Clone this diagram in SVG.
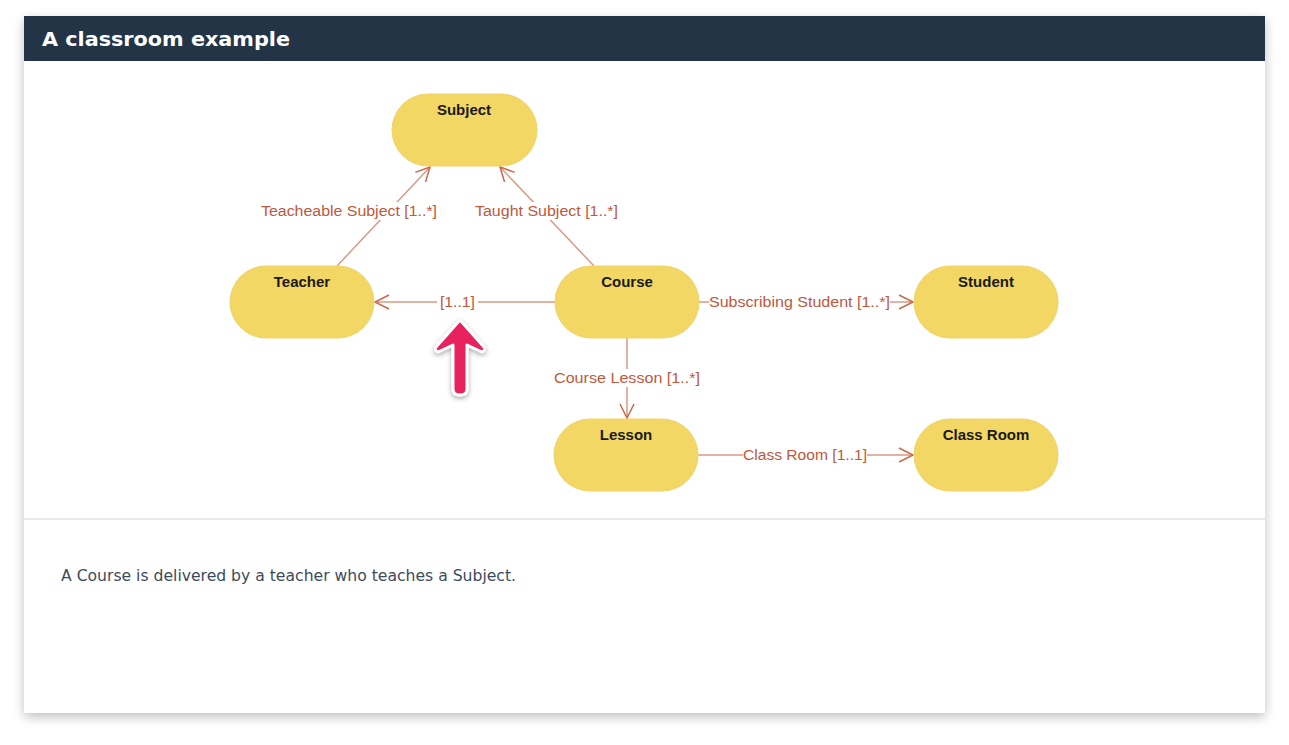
<svg xmlns="http://www.w3.org/2000/svg" width="1289" height="745" viewBox="0 0 1289 745">
<defs>
<filter id="shadow" x="-5%" y="-5%" width="110%" height="115%">
<feGaussianBlur in="SourceAlpha" stdDeviation="6"/>
<feOffset dx="0" dy="4"/>
<feComponentTransfer><feFuncA type="linear" slope="0.25"/></feComponentTransfer>
<feMerge><feMergeNode/><feMergeNode in="SourceGraphic"/></feMerge>
</filter>
<filter id="pshadow" x="-50%" y="-30%" width="200%" height="160%">
<feGaussianBlur in="SourceAlpha" stdDeviation="2.5"/>
<feOffset dx="0" dy="2"/>
<feComponentTransfer><feFuncA type="linear" slope="0.35"/></feComponentTransfer>
<feMerge><feMergeNode/><feMergeNode in="SourceGraphic"/></feMerge>
</filter>
<marker id="arr" markerWidth="20" markerHeight="20" refX="15" refY="8" orient="auto" markerUnits="userSpaceOnUse">
<path d="M1,1 L15,8 L1,15" fill="none" stroke="#c8694e" stroke-width="1.5"/>
</marker>
</defs>
<style>
.node rect{fill:#f2d764;stroke:#f0d36a;stroke-width:1}
.node text{font-family:"Liberation Sans",Arial,sans-serif;font-weight:bold;font-size:15px;fill:#1a1a1a;text-anchor:middle}
.edge{stroke:#d99a86;stroke-width:1.5;fill:none}
.lbl{font-family:"Liberation Sans",Arial,sans-serif;font-size:14px;fill:#c0583c;text-anchor:middle;dominant-baseline:central}
.lblbg{fill:#ffffff}
</style>
<rect width="1289" height="745" fill="#ffffff"/>
<g id="card">
<rect x="24" y="16" width="1241" height="697" fill="#ffffff" filter="url(#shadow)"/>
<rect x="24" y="16" width="1241" height="45" fill="#243447"/>
<text x="42" y="46" font-family="'DejaVu Sans',Verdana,sans-serif" font-weight="bold" font-size="20" fill="#ffffff" textLength="248" lengthAdjust="spacingAndGlyphs">A classroom example</text>
<line x1="24" y1="519" x2="1265" y2="519" stroke="#e2e2e2" stroke-width="1.5"/>
<text x="61" y="581" font-family="'DejaVu Sans',Verdana,sans-serif" font-size="15" fill="#3d4b5c" textLength="455" lengthAdjust="spacingAndGlyphs">A Course is delivered by a teacher who teaches a Subject.</text>
</g>
<g id="connectors">
<line class="edge" x1="337" y1="266" x2="430" y2="167" marker-end="url(#arr)"/>
<line class="edge" x1="594" y1="266" x2="500" y2="167" marker-end="url(#arr)"/>
<line class="edge" x1="555" y1="302" x2="375" y2="302" marker-end="url(#arr)"/>
<line class="edge" x1="699" y1="302" x2="913" y2="302" marker-end="url(#arr)"/>
<line class="edge" x1="627" y1="338" x2="627" y2="418" marker-end="url(#arr)"/>
<line class="edge" x1="698" y1="455" x2="913" y2="455" marker-end="url(#arr)"/>
<rect class="lblbg" x="261" y="202" width="176" height="18"/>
<text class="lbl" x="349" y="211" textLength="176" lengthAdjust="spacingAndGlyphs">Teacheable Subject [1..*]</text>
<rect class="lblbg" x="475" y="202" width="143" height="18"/>
<text class="lbl" x="546.5" y="211" textLength="143" lengthAdjust="spacingAndGlyphs">Taught Subject [1..*]</text>
<rect class="lblbg" x="437" y="293" width="41" height="18"/>
<text class="lbl" x="457.5" y="302" textLength="35" lengthAdjust="spacingAndGlyphs">[1..1]</text>
<rect class="lblbg" x="709" y="293" width="181" height="18"/>
<text class="lbl" x="799.5" y="302" textLength="181" lengthAdjust="spacingAndGlyphs">Subscribing Student [1..*]</text>
<rect class="lblbg" x="554" y="369" width="146" height="18"/>
<text class="lbl" x="627" y="378" textLength="146" lengthAdjust="spacingAndGlyphs">Course Lesson [1..*]</text>
<rect class="lblbg" x="743" y="446" width="124" height="18"/>
<text class="lbl" x="805" y="455" textLength="124" lengthAdjust="spacingAndGlyphs">Class Room [1..1]</text>
</g>
<g id="subject" class="node"><rect x="392" y="94" width="145" height="72" rx="36"/><text x="464" y="115">Subject</text></g>
<g id="teacher" class="node"><rect x="230" y="266" width="144" height="72" rx="36"/><text x="302" y="287">Teacher</text></g>
<g id="course" class="node"><rect x="555" y="266" width="144" height="72" rx="36"/><text x="627" y="287">Course</text></g>
<g id="student" class="node"><rect x="914" y="266" width="144" height="72" rx="36"/><text x="986" y="287">Student</text></g>
<g id="lesson" class="node"><rect x="554" y="419" width="144" height="72" rx="36"/><text x="626" y="440">Lesson</text></g>
<g id="classroom" class="node"><rect x="914" y="419" width="144" height="72" rx="36"/><text x="986" y="440">Class Room</text></g>
<g id="pointer" filter="url(#pshadow)">
<path d="M460,320 L484,347 Q486,350 482,352 L467,345 L467,389 Q467,395 460,395 Q453,395 453,389 L453,345 L438,352 Q434,350 436,347 Z" fill="#e8215f" stroke="#ffffff" stroke-width="3" stroke-linejoin="round"/>
</g>
</svg>
